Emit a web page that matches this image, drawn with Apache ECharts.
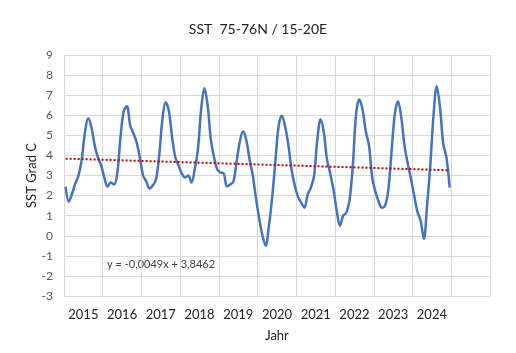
<!DOCTYPE html>
<html>
<head>
<meta charset="utf-8">
<script src="https://cdn.jsdelivr.net/npm/echarts@6/dist/echarts.min.js"></script>
<style>
html,body{margin:0;padding:0;background:#fff;}
#chart{width:516px;height:353px;}
</style>
</head>
<body>
<div id="chart"></div>
<script>
// Year tick labels (last slot empty)
var yearLabels = ['2015','2016','2017','2018','2019','2020','2021','2022','2023','2024',''];

// Monthly SST values (Jan..Dec) per year
var sst2015 = [2.45, 1.7, 2.1, 2.6, 3.0, 3.8, 5.15, 5.85, 5.4, 4.5, 3.9, 3.5];
var sst2016 = [2.9, 2.45, 2.65, 2.55, 3.1, 4.9, 6.2, 6.45, 5.5, 5.1, 4.65, 3.9];
var sst2017 = [3.0, 2.7, 2.35, 2.5, 2.8, 4.0, 5.8, 6.65, 6.2, 4.9, 3.9, 3.5];
var sst2018 = [3.1, 2.9, 3.0, 2.65, 3.3, 4.3, 6.3, 7.35, 6.5, 4.8, 3.9, 3.3];
var sst2019 = [3.15, 3.1, 2.45, 2.55, 2.7, 3.7, 4.7, 5.2, 4.75, 3.8, 3.0, 1.85];
var sst2020 = [0.85, 0.0, -0.5, 0.5, 1.9, 3.7, 5.45, 5.98, 5.45, 4.55, 3.3, 2.5];
var sst2021 = [1.95, 1.65, 1.4, 2.05, 2.4, 3.0, 4.8, 5.8, 5.15, 3.8, 3.1, 2.3];
var sst2022 = [1.25, 0.5, 1.0, 1.15, 1.8, 3.5, 6.05, 6.78, 6.3, 5.2, 4.5, 2.9];
var sst2023 = [2.2, 1.7, 1.4, 1.5, 2.3, 4.2, 6.05, 6.7, 5.9, 4.5, 3.6, 2.85];
var sst2024 = [2.0, 1.2, 0.75, -0.15, 1.5, 3.5, 6.0, 7.45, 6.4, 4.6, 3.9, 2.4];

// Linear trend line end values (first and last month)
var trendEnds = [3.84, 3.26];
var trendText = 'y = -0,0049x + 3,8462';

var sst = [].concat(sst2015, sst2016, sst2017, sst2018, sst2019, sst2020,
                    sst2021, sst2022, sst2023, sst2024);
var nMonths = yearLabels.length * 12;
var monthCats = [];
for (var i = 0; i < nMonths; i++) monthCats.push('m' + i);

var chart = echarts.init(document.getElementById('chart'), null, {renderer: 'canvas'});
var FONT = 'Lato';
chart.setOption({
  animation: false,
  backgroundColor: '#ffffff',
  title: {
    text: 'SST  75-76N / 15-20E',
    left: 'center',
    top: 17,
    textStyle: {fontFamily: FONT, fontSize: 14, fontWeight: 'normal', color: '#222'}
  },
  grid: {left: 64, right: 26, top: 55, bottom: 57, containLabel: false},
  xAxis: [{
    type: 'category',
    data: yearLabels,
    boundaryGap: true,
    name: 'Jahr',
    nameLocation: 'middle',
    nameGap: 33,
    nameTextStyle: {fontFamily: FONT, fontSize: 13, color: '#222'},
    axisLine: {show: false},
    axisTick: {show: false},
    axisLabel: {fontFamily: FONT, fontSize: 13, color: '#222', margin: 12, interval: 0},
    splitLine: {show: true, interval: 0, lineStyle: {color: '#d9d9d9', width: 1}}
  }, {
    type: 'category',
    data: monthCats,
    boundaryGap: true,
    show: false,
    position: 'bottom'
  }],
  yAxis: {
    type: 'value',
    min: -3,
    max: 9,
    interval: 1,
    name: 'SST Grad C',
    nameLocation: 'middle',
    nameGap: 26,
    nameMoveOverlap: false,
    nameTextStyle: {fontFamily: FONT, fontSize: 13, color: '#222'},
    axisLine: {show: true, lineStyle: {color: '#d9d9d9'}},
    axisTick: {show: false},
    axisLabel: {fontFamily: FONT, fontSize: 12, color: '#595959', margin: 11},
    splitLine: {show: true, lineStyle: {color: '#d9d9d9', width: 1}}
  },
  series: [{
    type: 'line',
    xAxisIndex: 1,
    data: sst,
    smooth: 0.35,
    showSymbol: false,
    lineStyle: {color: '#4472C4', width: 2.5},
    itemStyle: {color: '#4472C4'},
    z: 3
  }, {
    type: 'line',
    xAxisIndex: 1,
    data: [[0, trendEnds[0]], [sst.length - 1, trendEnds[1]]],
    showSymbol: false,
    lineStyle: {color: '#C00000', width: 2, type: [2, 2]},
    z: 4
  }],
  graphic: [{
    type: 'text',
    left: 107,
    top: 259,
    style: {text: trendText, fontFamily: FONT, fontSize: 11, fill: '#404040'}
  }]
});
</script>
</body>
</html>
